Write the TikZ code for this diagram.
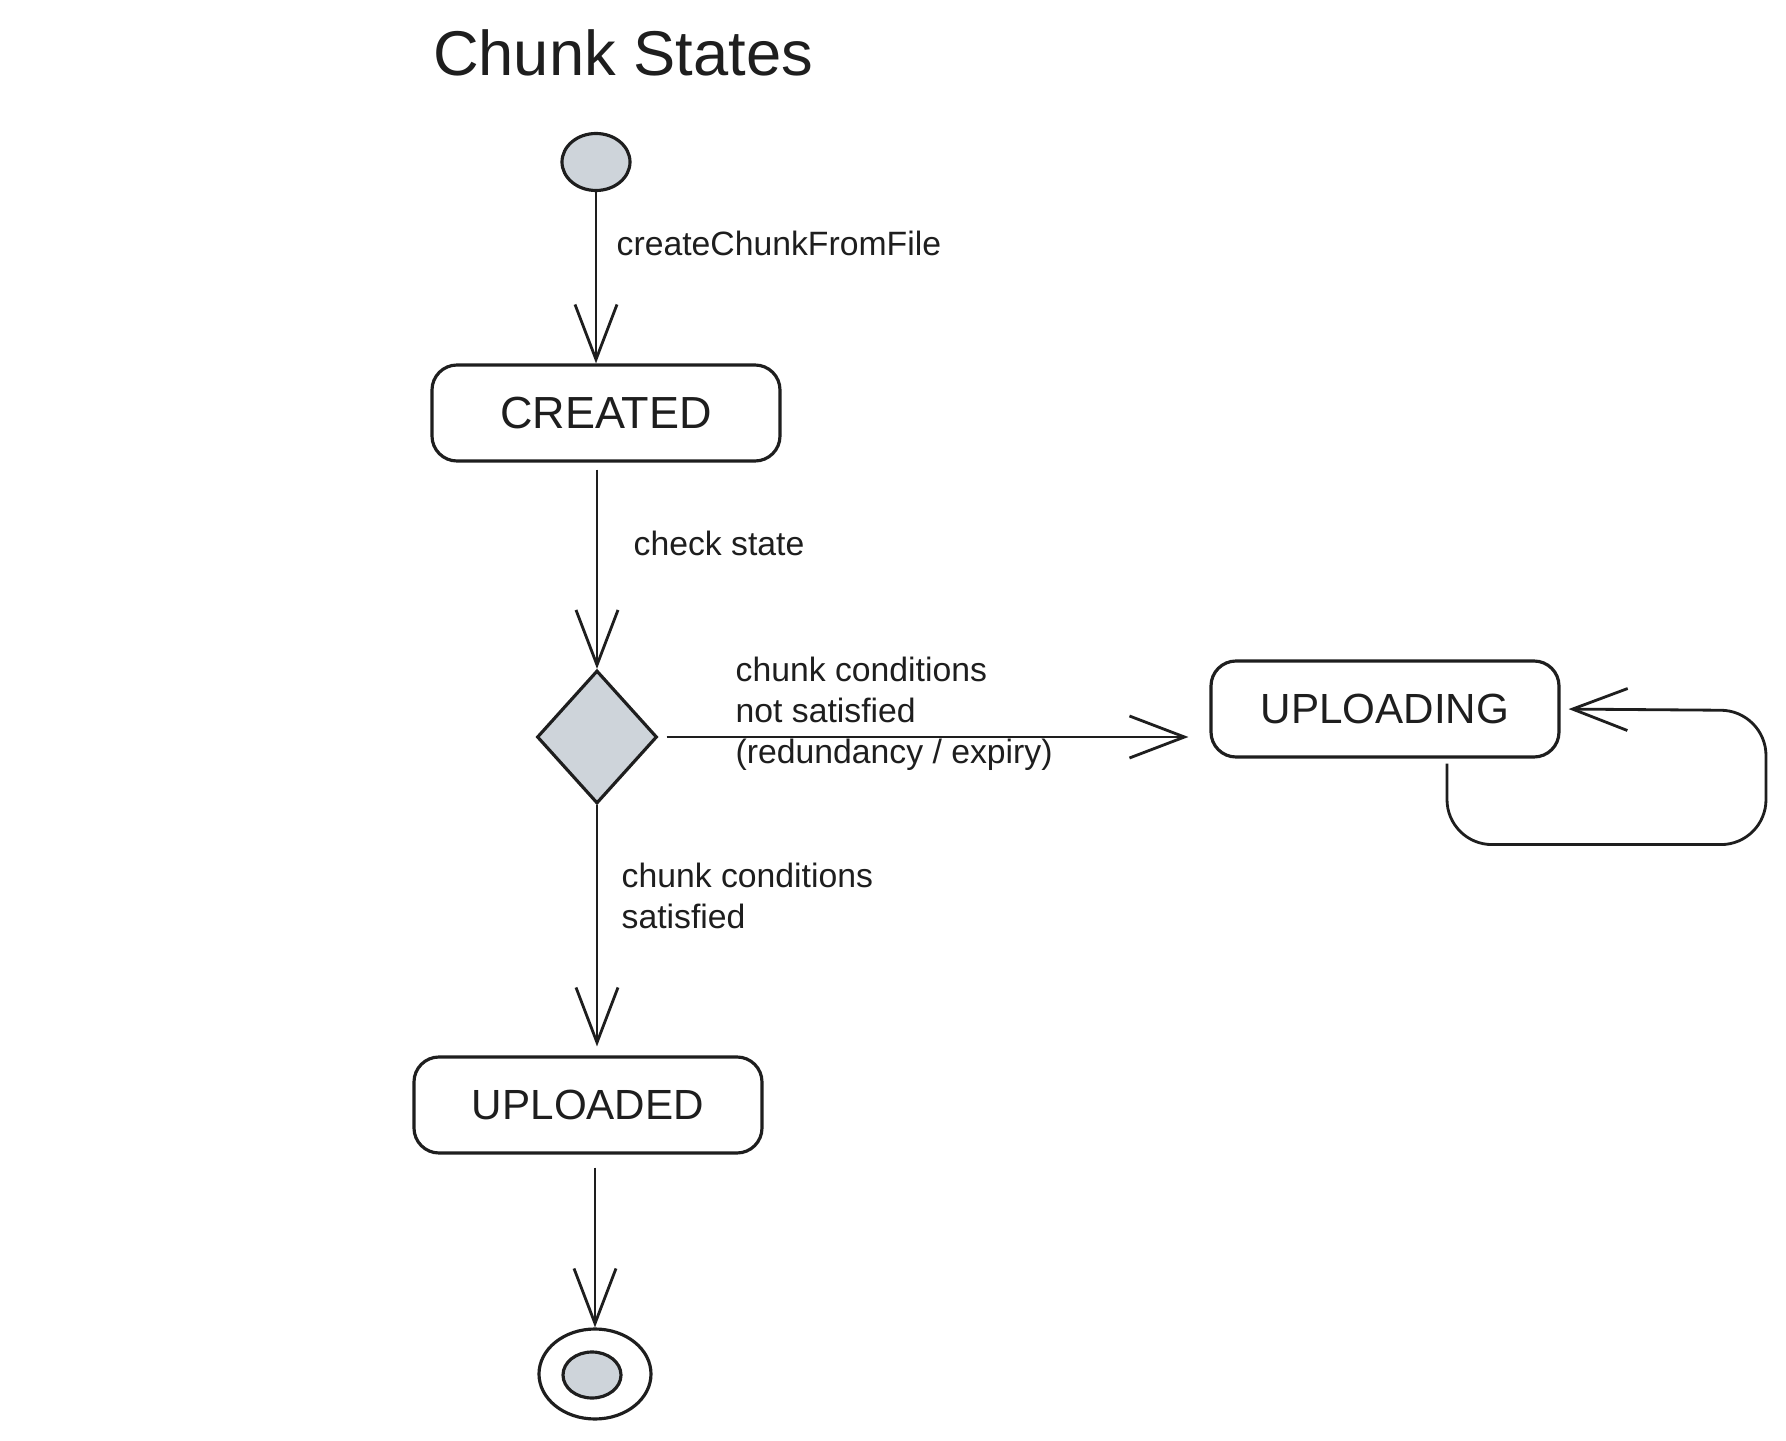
\documentclass[tikz,border=0pt]{standalone}
\usepackage{fontspec}
\setmainfont{Liberation Sans}
\usetikzlibrary{arrows.meta,positioning,shapes.geometric}
\definecolor{ink}{HTML}{1E1E1E}
\definecolor{slate}{HTML}{CED4DA}

\begin{document}
\begin{tikzpicture}[
    every node/.style={text=ink},
    statebox/.style={draw=ink, line width=0.9pt, rounded corners=0.25cm,
        minimum width=3.48cm, minimum height=0.96cm, font=\fontsize{12}{14}\selectfont},
    decision/.style={diamond, draw=ink, fill=slate, line width=0.9pt,
        inner sep=0pt, minimum width=1.2cm, minimum height=1.33cm},
    blob/.style={ellipse, draw=ink, line width=0.9pt, inner sep=0pt},
    translabel/.style={anchor=west, align=left, inner sep=0pt, font=\fontsize{9.6}{11.6}\selectfont},
    arrow/.style={draw=ink, line width=0.8pt, -{Straight Barb[length=0.55cm, width=0.42cm]}},
]

% Canvas
\fill[white] (0,0) rectangle (17.86,-14.41);
\useasboundingbox (0,0) rectangle (17.86,-14.41);

% Title
\node[font=\fontsize{18}{20}\selectfont] (title) at (6.23,-0.53) {Chunk States};

% States
\node[blob, fill=slate, minimum width=0.68cm, minimum height=0.57cm] (start) at (5.96,-1.62) {};
\node[statebox, font=\fontsize{12.8}{14}\selectfont] (created) at (6.06,-4.13) {CREATED};
\node[decision] (check) at (5.97,-7.37) {};
\node[statebox] (uploading) at (13.85,-7.09) {UPLOADING};
\node[statebox] (uploaded) at (5.88,-11.05) {UPLOADED};
\node[blob, minimum width=1.12cm, minimum height=0.9cm] (final) at (5.95,-13.74) {};
\node[blob, fill=slate, minimum width=0.58cm, minimum height=0.46cm] (finaldot) at (5.92,-13.75) {};

% Transitions
\draw[arrow] (start) -- (start |- created.north);
\draw[arrow, shorten <=0.07cm] (created.south -| check) -- (check.north);
\draw[arrow, shorten <=0.08cm, shorten >=0.21cm] (check.east) -- (check.east -| uploading.west);
\draw[arrow, shorten >=0.09cm] (check.south) -- (check |- uploaded.north);
\draw[arrow, shorten <=0.13cm] (uploaded.south -| final) -- (final.north);

% Self loop on UPLOADING
\coordinate (loopstart) at ([xshift=0.62cm, yshift=-0.05cm]uploading.south);
\draw[arrow, rounded corners=0.45cm, shorten >=0.08cm]
    (loopstart) -- ++(0,-0.81) -- ++(3.19,0) -- ++(0,1.34) -- (uploading.east);

% Transition labels
\node[translabel] (lblcreate) at (6.16,-2.43) {createChunkFromFile};
\node[translabel] (lblcheck) at (6.33,-5.43) {check state};
\node[translabel] (lblnotok) at (7.35,-7.14) {chunk conditions\\not satisfied\\(redundancy / expiry)};
\node[translabel] (lblok) at (6.21,-8.96) {chunk conditions\\satisfied};

\end{tikzpicture}
\end{document}
